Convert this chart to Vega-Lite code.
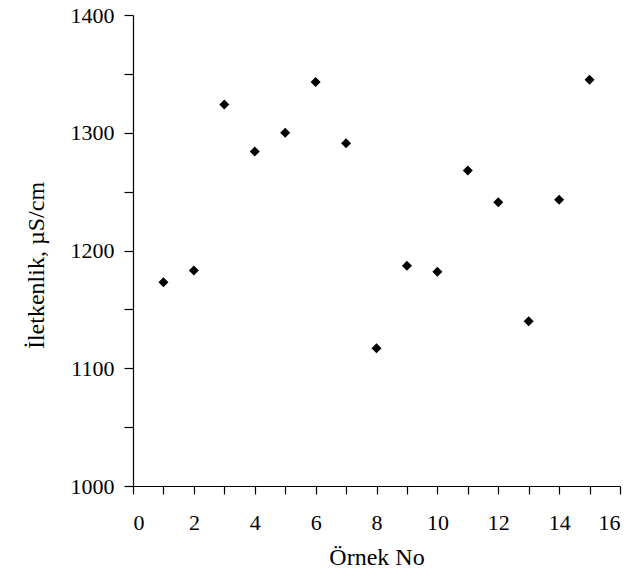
{
  "$schema": "https://vega.github.io/schema/vega-lite/v6.json",
  "width": 487,
  "height": 471,
  "autosize": {"type": "none"},
  "padding": {"left": 133, "top": 15, "right": 23, "bottom": 92},
  "background": "white",
  "config": {
    "view": {"stroke": null},
    "axis": {
      "grid": false,
      "domainColor": "black",
      "tickColor": "black",
      "labelColor": "black",
      "titleColor": "black",
      "labelFont": "Liberation Serif",
      "titleFont": "Liberation Serif",
      "labelFontSize": 22,
      "titleFontWeight": "normal",
      "domainWidth": 1.2,
      "tickWidth": 1.2
    }
  },
  "data": {
    "values": [
      {"no": 1, "val": 1173},
      {"no": 2, "val": 1183},
      {"no": 3, "val": 1324},
      {"no": 4, "val": 1284},
      {"no": 5, "val": 1300},
      {"no": 6, "val": 1343},
      {"no": 7, "val": 1291},
      {"no": 8, "val": 1117},
      {"no": 9, "val": 1187},
      {"no": 10, "val": 1182},
      {"no": 11, "val": 1268},
      {"no": 12, "val": 1241},
      {"no": 13, "val": 1140},
      {"no": 14, "val": 1243},
      {"no": 15, "val": 1345}
    ]
  },
  "mark": {"type": "point", "shape": "diamond", "filled": true, "color": "black", "size": 100, "opacity": 1},
  "encoding": {
    "x": {
      "field": "no",
      "type": "quantitative",
      "scale": {"domain": [0, 16], "nice": false, "zero": false},
      "axis": {
        "title": "Örnek No",
        "titleFontSize": 24,
        "values": [0,1,2,3,4,5,6,7,8,9,10,11,12,13,14,15,16],
        "labelExpr": "datum.value % 2 == 0 ? datum.label : ''",
        "tickSize": 8,
        "labelPadding": 18,
        "titlePadding": 12
      }
    },
    "y": {
      "field": "val",
      "type": "quantitative",
      "scale": {"domain": [1000, 1400], "nice": false, "zero": false},
      "axis": {
        "title": "İletkenlik, µS/cm",
        "titleFontSize": 24,
        "titleY": 250,
        "values": [1000,1050,1100,1150,1200,1250,1300,1350,1400],
        "labelExpr": "datum.value % 100 == 0 ? datum.label : ''",
        "format": "d",
        "tickSize": 9,
        "labelPadding": 10,
        "titlePadding": 22
      }
    }
  }
}
